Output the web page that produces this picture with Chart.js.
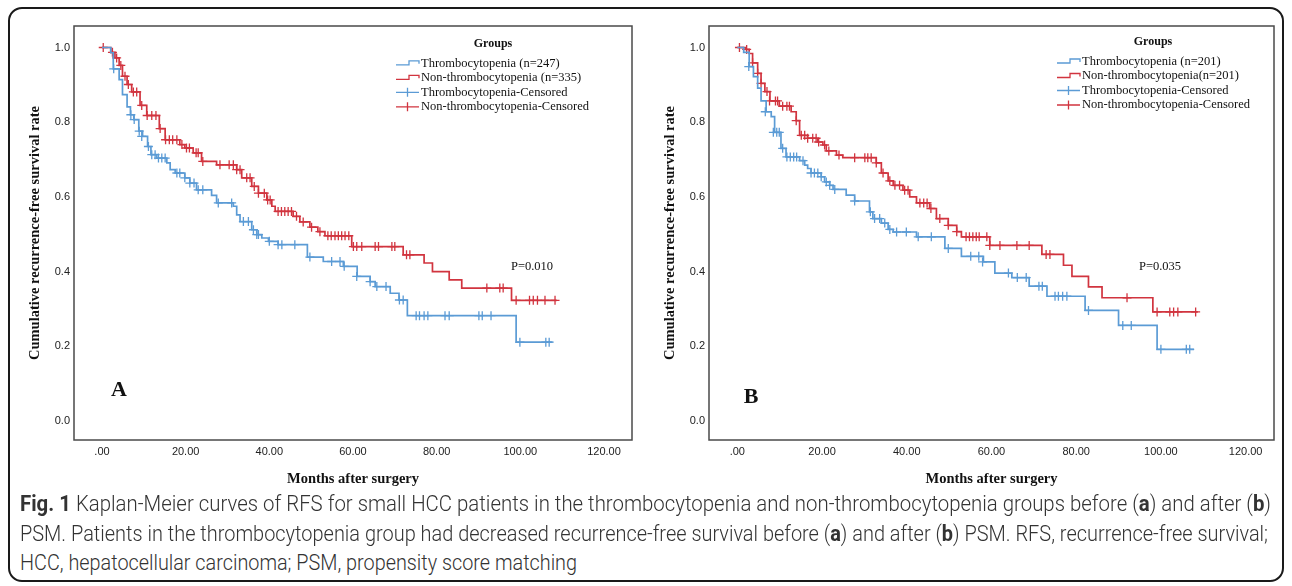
<!DOCTYPE html>
<html>
<head>
<meta charset="utf-8">
<script src="https://cdn.jsdelivr.net/npm/chart.js@4.4.1/dist/chart.umd.min.js"></script>
<style>
  body { margin: 0; background: #fff; width: 1292px; height: 586px; position: relative; overflow: hidden; }
  .frame { position: absolute; left: 8px; top: 7px; width: 1276px; height: 575px; box-sizing: border-box; border: 2px solid #1a1a1a; border-radius: 14px; }
  canvas { position: absolute; top: 0; }
  #chartA { left: 0; }
  #chartB { left: 640px; }
  .cap { position: absolute; left: 20px; white-space: nowrap; display: inline-block; font-family: Roboto, "Open Sans", sans-serif; font-weight: 300; font-size: 21.5px; line-height: 26px; color: #333; transform-origin: 0 50%; }
  .cap b { font-weight: 700; }
</style>
</head>
<body>
<div class="frame"></div>
<canvas id="chartA" width="650" height="500"></canvas>
<canvas id="chartB" width="652" height="500"></canvas>
<div class="cap" style="top:491px" data-w="1251"><b>Fig. 1</b> Kaplan-Meier curves of RFS for small HCC patients in the thrombocytopenia and non-thrombocytopenia groups before (<b>a</b>) and after (<b>b</b>)</div>
<div class="cap" style="top:521px" data-w="1248">PSM. Patients in the thrombocytopenia group had decreased recurrence-free survival before (<b>a</b>) and after (<b>b</b>) PSM. RFS, recurrence-free survival;</div>
<div class="cap" style="top:550px" data-w="557">HCC, hepatocellular carcinoma; PSM, propensity score matching</div>
<script>
//? axis ticks
const xTicks = [0, 20, 40, 60, 80, 100, 120]
const xTickLabels = ['.00', '20.00', '40.00', '60.00', '80.00', '100.00', '120.00']
const yTicks = [0, 0.2, 0.4, 0.6, 0.8, 1.0]
const yTickLabels = ['0.0', '0.2', '0.4', '0.6', '0.8', '1.0']

//? Panel A - before PSM
const aThrombTime = [0, 2.1, 2.7, 4.1, 4.9, 6.0, 6.8, 7.6, 8.8, 9.7, 10.9, 11.7, 13.1, 15.5, 16.3, 17.5, 19.8, 21.0, 22.6, 26.2, 27.4, 31.4, 32.2, 33.0, 35.8, 37.0, 38.2, 39.8, 42.1, 49.1, 52.9, 57.7, 61.0, 64.1, 65.3, 68.9, 71.0, 73.0, 99.0, 107.7]
const aThrombSurv = [1, 0.986, 0.943, 0.914, 0.874, 0.841, 0.820, 0.807, 0.776, 0.762, 0.735, 0.713, 0.704, 0.691, 0.673, 0.664, 0.651, 0.637, 0.619, 0.604, 0.584, 0.575, 0.552, 0.534, 0.512, 0.499, 0.490, 0.481, 0.472, 0.439, 0.427, 0.414, 0.387, 0.373, 0.360, 0.342, 0.324, 0.282, 0.211, 0.211]
const aThrombCens = [2.8, 6.9, 7.7, 8.9, 9.5, 11.1, 11.9, 12.7, 13.5, 14.3, 15.1, 17.9, 18.6, 19.8, 21.0, 22.0, 23.0, 24.1, 27.8, 31.0, 33.8, 35.0, 36.2, 37.0, 37.4, 40.0, 42.1, 43.0, 46.1, 49.7, 54.9, 56.9, 57.9, 60.9, 64.1, 65.7, 67.9, 71.1, 72.0, 75.1, 75.9, 77.0, 77.9, 82.0, 83.0, 90.1, 90.9, 93.0, 99.9, 106.1, 106.9]

const aNonTime = [0, 2.1, 3.1, 4.1, 4.9, 6.0, 7.1, 9.1, 10.7, 13.7, 15.1, 18.6, 19.8, 21.8, 23.8, 27.4, 32.2, 33.4, 35.8, 37.4, 39.4, 40.6, 41.4, 45.7, 47.3, 49.7, 51.6, 53.3, 59.7, 72.0, 77.0, 79.0, 83.0, 86.0, 97.9, 108.7]
const aNonSurv = [1, 0.987, 0.972, 0.952, 0.923, 0.901, 0.881, 0.845, 0.818, 0.783, 0.753, 0.740, 0.731, 0.718, 0.695, 0.686, 0.673, 0.651, 0.628, 0.610, 0.592, 0.575, 0.561, 0.548, 0.533, 0.519, 0.507, 0.496, 0.467, 0.445, 0.423, 0.400, 0.378, 0.356, 0.323, 0.323]
const aNonCens = [0.3, 2.5, 3.5, 4.5, 5.5, 6.3, 7.5, 8.3, 9.5, 10.8, 11.9, 12.9, 13.9, 15.2, 16.1, 16.9, 17.9, 19.1, 20.2, 20.9, 22.5, 23.0, 24.1, 28.2, 30.4, 31.4, 32.2, 33.0, 34.6, 35.4, 36.4, 37.4, 38.8, 39.6, 40.2, 42.1, 42.9, 43.7, 44.5, 45.3, 46.5, 48.1, 50.1, 52.1, 54.0, 54.8, 55.7, 56.5, 57.3, 58.1, 59.0, 60.1, 60.9, 62.1, 65.3, 66.1, 69.3, 70.0, 72.8, 73.6, 92.0, 95.1, 95.9, 99.0, 102.2, 103.1, 104.1, 105.9, 108.3]

//? Panel B - after PSM
const bThrombTime = [0, 1.5, 2.8, 3.8, 4.8, 5.6, 6.8, 8.0, 8.8, 10.3, 11.5, 14.7, 15.9, 16.6, 17.4, 19.8, 20.6, 21.8, 22.6, 25.7, 27.7, 31.2, 32.0, 34.0, 35.6, 36.8, 42.3, 49.0, 52.9, 58.1, 60.8, 64.8, 68.9, 73.1, 82.1, 90.0, 99.1, 107.8]
const bThrombSurv = [1, 0.987, 0.949, 0.922, 0.891, 0.857, 0.828, 0.815, 0.773, 0.730, 0.707, 0.697, 0.685, 0.676, 0.664, 0.654, 0.640, 0.631, 0.620, 0.605, 0.589, 0.560, 0.542, 0.530, 0.513, 0.506, 0.493, 0.462, 0.441, 0.426, 0.396, 0.384, 0.361, 0.334, 0.296, 0.256, 0.192, 0.192]
const bThrombCens = [2.7, 6.6, 8.5, 9.3, 9.9, 10.7, 11.7, 12.5, 13.3, 14.0, 15.5, 17.4, 18.2, 19.0, 19.8, 21.0, 21.8, 23.0, 27.7, 31.4, 32.4, 33.6, 34.8, 36.0, 37.6, 39.9, 42.7, 45.8, 49.8, 55.1, 57.0, 57.9, 64.0, 66.1, 68.2, 71.2, 72.0, 75.0, 75.8, 76.8, 77.8, 82.9, 91.0, 93.0, 100.0, 106.0, 106.8]

const bNonTime = [0, 1.9, 2.8, 3.6, 4.8, 5.6, 6.5, 7.7, 9.9, 12.7, 13.9, 14.7, 16.6, 19.0, 20.2, 21.0, 23.4, 24.9, 32.8, 34.0, 35.6, 36.8, 39.1, 40.7, 42.3, 45.4, 47.0, 49.8, 51.8, 52.9, 59.6, 71.9, 77.0, 79.0, 82.9, 86.1, 98.1, 108.7]
const bNonSurv = [1, 0.995, 0.984, 0.959, 0.931, 0.904, 0.882, 0.857, 0.843, 0.828, 0.804, 0.765, 0.757, 0.747, 0.739, 0.723, 0.712, 0.705, 0.691, 0.664, 0.643, 0.631, 0.618, 0.600, 0.584, 0.569, 0.542, 0.524, 0.507, 0.493, 0.470, 0.446, 0.417, 0.387, 0.359, 0.330, 0.292, 0.292]
const bNonCens = [0.5, 2.2, 3.6, 4.8, 5.6, 7.0, 7.6, 9.0, 9.5, 10.7, 11.7, 12.3, 13.9, 15.1, 15.9, 16.6, 17.8, 18.6, 19.2, 20.6, 21.6, 24.0, 27.7, 30.1, 30.8, 31.6, 32.8, 34.4, 36.0, 37.2, 38.3, 39.5, 40.3, 43.1, 44.0, 44.8, 45.7, 47.8, 49.8, 51.8, 54.0, 54.8, 55.6, 56.4, 57.1, 58.9, 59.6, 62.0, 66.0, 68.9, 72.9, 73.8, 92.0, 99.1, 102.1, 103.0, 104.0, 108.2]

const aLegend = ['Thrombocytopenia (n=247)', 'Non-thrombocytopenia (n=335)', 'Thrombocytopenia-Censored', 'Non-thrombocytopenia-Censored']
const bLegend = ['Thrombocytopenia (n=201)', 'Non-thrombocytopenia(n=201)', 'Thrombocytopenia-Censored', 'Non-thrombocytopenia-Censored']

const blue = '#5b9bd5'
const red = '#d1343f'

const curve = (times, surv) => times.map((t, i) => ({ x: t, y: surv[i] }))

// censored marks sit on the curve
const marks = (times, surv, cens) => cens.map(c => {
    let y = surv[0]
    times.forEach((t, i) => { if (t <= c + 0.3) y = surv[i] })
    return { x: c, y: y }
})

const kmDecor = {
    id: 'kmDecor',
    beforeDatasetsDraw(chart) {
        const { ctx, chartArea: a } = chart
        ctx.save()
        ctx.strokeStyle = '#4a4a4a'
        ctx.lineWidth = 1.5
        ctx.strokeRect(a.left, a.top, a.right - a.left, a.bottom - a.top)
        ctx.restore()
    },
    afterDraw(chart, args, o) {
        const ctx = chart.ctx
        ctx.save()
        ctx.fillStyle = '#111'
        ctx.textBaseline = 'middle'
        ctx.textAlign = 'center'
        ctx.font = 'bold 12px "Liberation Serif", serif'
        ctx.fillText('Groups', o.titleX, o.titleY)
        ctx.textAlign = 'left'
        ctx.font = '12.5px "Liberation Serif", serif'
        o.labels.forEach((txt, i) => {
            const y = o.rowY + i * 14.5
            const sx = o.textX - 25
            ctx.strokeStyle = i % 2 ? red : blue
            ctx.lineWidth = 1.3
            ctx.beginPath()
            if (i < 2) {
                ctx.moveTo(sx, y + 1.5)
                ctx.lineTo(sx + 13, y + 1.5)
                ctx.lineTo(sx + 13, y - 2.5)
                ctx.lineTo(sx + 23, y - 2.5)
                ctx.lineTo(sx + 23, y + 0.5)
            } else {
                ctx.moveTo(sx, y)
                ctx.lineTo(sx + 23, y)
                ctx.moveTo(sx + 11.5, y - 4.5)
                ctx.lineTo(sx + 11.5, y + 4.5)
            }
            ctx.stroke()
            ctx.fillText(txt, o.textX, y)
        })
        ctx.textAlign = 'center'
        ctx.font = '12.5px "Liberation Serif", serif'
        ctx.fillText(o.pText, o.pX, o.pY)
        ctx.font = 'bold 22px "Liberation Serif", serif'
        ctx.fillText(o.letter, o.letterX, o.letterY)
        ctx.restore()
    }
}

const tickFont = { family: '"Liberation Sans", Arial, sans-serif', size: 11 }
const titleFont = { family: '"Liberation Serif", serif', size: 14.5, weight: 'bold' }

function makeConfig(thromb, non, yAxisWidth, yTitlePad, decor) {
    return {
        type: 'line',
        data: {
            datasets: [
                { data: curve(thromb[0], thromb[1]), borderColor: blue, borderWidth: 1.7, stepped: true, pointRadius: 0, fill: false },
                { data: curve(non[0], non[1]), borderColor: red, borderWidth: 1.7, stepped: true, pointRadius: 0, fill: false },
                { data: marks(thromb[0], thromb[1], thromb[2]), showLine: false, pointStyle: 'cross', pointRadius: 4.5, borderWidth: 1.3, borderColor: blue },
                { data: marks(non[0], non[1], non[2]), showLine: false, pointStyle: 'cross', pointRadius: 4.5, borderWidth: 1.3, borderColor: red }
            ]
        },
        options: {
            responsive: false,
            animation: false,
            layout: { padding: { top: 26, right: 18, left: 0, bottom: 0 } },
            plugins: { legend: { display: false }, tooltip: { enabled: false }, kmDecor: decor },
            scales: {
                x: {
                    type: 'linear', min: -6.69, max: 126.7,
                    afterBuildTicks: s => { s.ticks = xTicks.map(v => ({ value: v })) },
                    afterFit: s => { s.height = 60 },
                    ticks: { callback: (v, i) => xTickLabels[i], font: tickFont, color: '#222', padding: 5, maxRotation: 0, autoSkip: false },
                    grid: { display: false, drawTicks: false },
                    border: { display: false },
                    title: { display: true, text: 'Months after surgery', font: titleFont, color: '#111', padding: { top: 0, bottom: 12.3 } }
                },
                y: {
                    type: 'linear', min: -0.0509, max: 1.0576,
                    afterBuildTicks: s => { s.ticks = yTicks.map(v => ({ value: v })) },
                    afterFit: s => { s.width = yAxisWidth },
                    ticks: { callback: (v, i) => yTickLabels[i], font: tickFont, color: '#222', padding: 4, autoSkip: false },
                    grid: { display: false, drawTicks: false },
                    border: { display: false },
                    title: { display: true, text: 'Cumulative recurrence-free survival rate', font: titleFont, color: '#111', padding: { top: yTitlePad, bottom: 0 } }
                }
            }
        },
        plugins: [kmDecor]
    }
}

const chartA = new Chart(document.getElementById('chartA'), makeConfig(
    [aThrombTime, aThrombSurv, aThrombCens], [aNonTime, aNonSurv, aNonCens], 74, 26.3,
    { labels: aLegend, textX: 421, titleX: 493, titleY: 44, rowY: 63.3, pText: 'P=0.010', pX: 532, pY: 267, letter: 'A', letterX: 119, letterY: 390 }
))

const chartB = new Chart(document.getElementById('chartB'), makeConfig(
    [bThrombTime, bThrombSurv, bThrombCens], [bNonTime, bNonSurv, bNonCens], 69, 21.3,
    { labels: bLegend, textX: 442, titleX: 513, titleY: 41.5, rowY: 61.5, pText: 'P=0.035', pX: 520, pY: 267, letter: 'B', letterX: 111, letterY: 397 }
))

// squeeze caption lines to the reference widths
document.querySelectorAll('.cap').forEach(el => {
    const w = el.getBoundingClientRect().width
    el.style.transform = 'scaleX(' + (el.dataset.w / w) + ')'
})
</script>
</body>
</html>
